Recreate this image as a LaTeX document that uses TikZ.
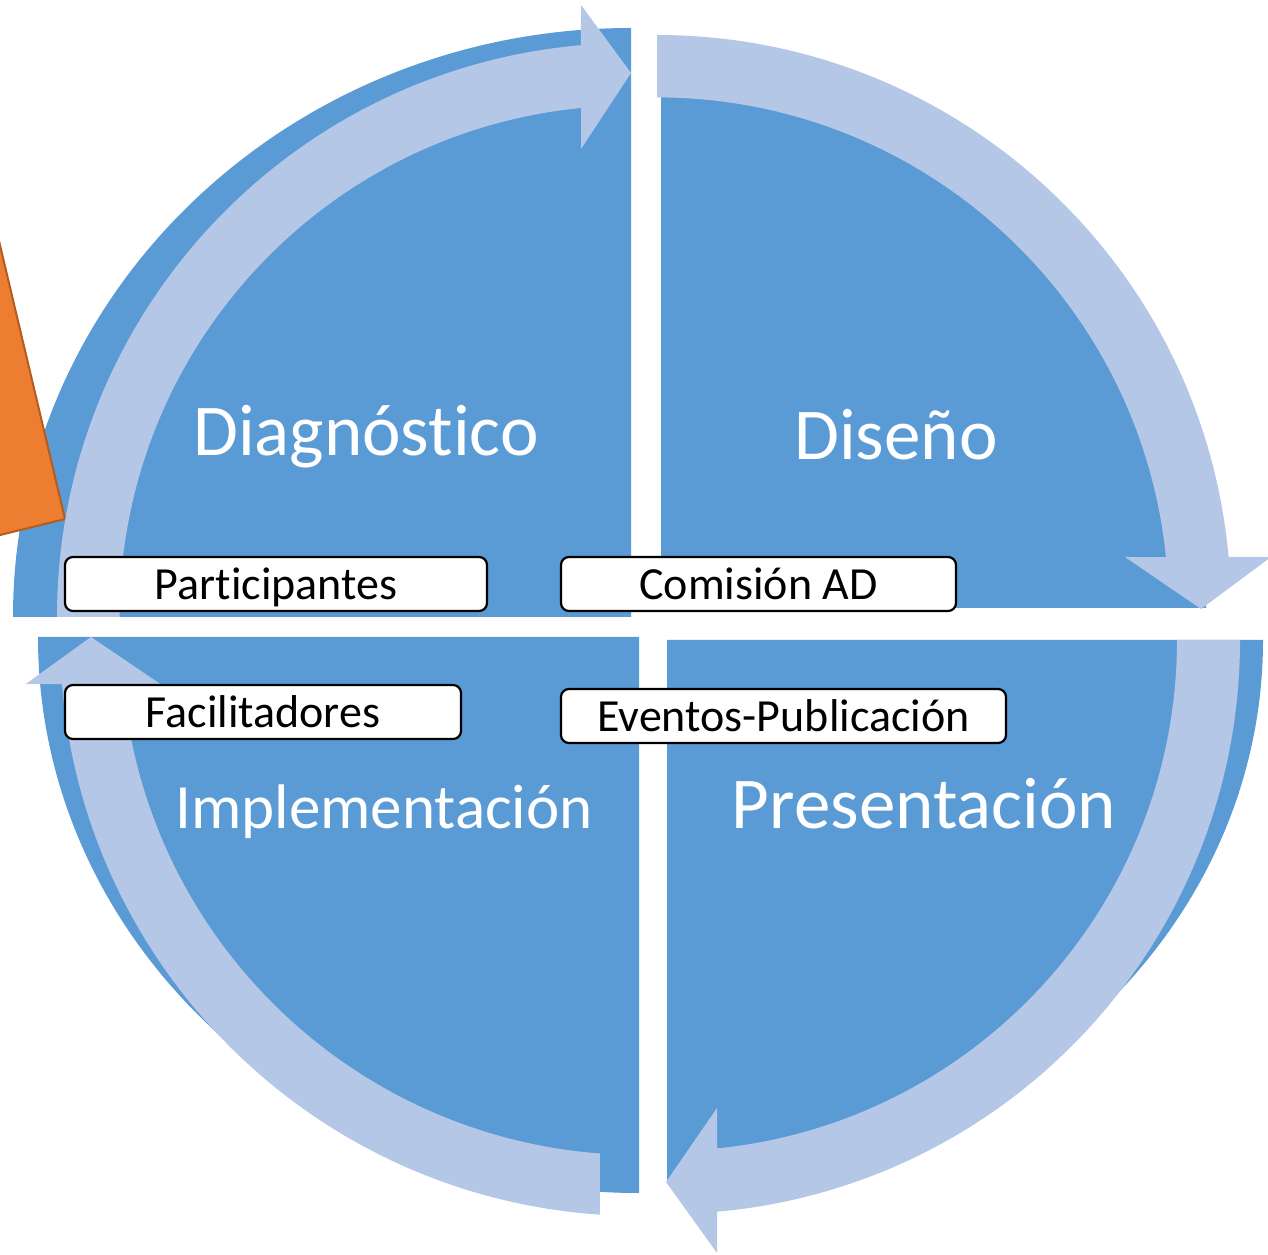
\documentclass[tikz,border=0pt]{standalone}
\usepackage{fontspec}
\setmainfont{Carlito}[Ligatures=NoCommon]
\definecolor{pieblue}{HTML}{5B9BD5}
\definecolor{arrowblue}{HTML}{B4C7E7}
\definecolor{orangefill}{HTML}{ED7D31}
\definecolor{orangeline}{HTML}{B35C1E}
\begin{document}
\begin{tikzpicture}[x=1pt,y=1pt]
\tikzset{
  pie/.style={fill=pieblue},
  cyclearrow/.style={fill=arrowblue},
  phase/.style={text=white, inner sep=0pt, anchor=base, font=\fontsize{73}{80}\selectfont},
  role/.style={draw=black, line width=2.2pt, fill=white, rounded corners=8pt, inner sep=0pt,
    text height=43pt, text depth=11pt, minimum height=54pt, font=\fontsize{46}{50}\selectfont}
}
\useasboundingbox (0,0) rectangle (1268,1254);
\clip (0,0) rectangle (1268,1254);

% quadrant pies
\fill[pie] (631,637) -- (13,637) arc[start angle=180,end angle=90,x radius=618,y radius=589] -- cycle;
\fill[pie] (661,646) -- (661,1206) arc[start angle=90,end angle=0,x radius=545,y radius=560] -- cycle;
\fill[pie] (667,614) -- (1263,614) arc[start angle=0,end angle=-90,x radius=596,y radius=540] -- cycle;
\fill[pie] (639,617) -- (639,61) arc[start angle=270,end angle=180,x radius=601,y radius=556] -- cycle;

% orange triangle
\filldraw[fill=orangefill, draw=orangeline, line width=2pt] (-10,1051) -- (65,735) -- (-10,716.5) -- cycle;

% cycle arrows
\begin{scope}[shift={(631,637)}]
  \fill[cyclearrow] (180:574) arc[start angle=180,end angle=95.0,radius=574]
    -- (-50,612) -- (0,544) -- (-50,468) -- (95.61:511.5)
    arc[start angle=95.61,end angle=180,radius=511.5] -- cycle;
\end{scope}
\begin{scope}[shift={(657,645)}]
  \fill[cyclearrow] (90:574) arc[start angle=90,end angle=5.2,radius=574]
    -- (614,52) -- (544,0) -- (468,52) -- (5.83:511.6)
    arc[start angle=5.83,end angle=90,radius=511.6] -- cycle;
\end{scope}
\begin{scope}[shift={(666,614)}]
  \fill[cyclearrow] (0:574) arc[start angle=0,end angle=-84.9,radius=574]
    -- (51,-613) -- (0,-542) -- (51,-468) -- (-84.27:511)
    arc[start angle=-84.27,end angle=0,radius=511] -- cycle;
\end{scope}
\begin{scope}[shift={(639,617)}]
  \fill[cyclearrow] (266.12:579) arc[start angle=266.12,end angle=184.67,radius=579]
    -- (-613.2,-47) -- (-548,0) -- (-478.7,-47) -- (185.2:518)
    arc[start angle=185.2,end angle=265.68,radius=518] -- cycle;
\end{scope}

% phase titles
\node[phase] (diag) at (366,798) {Diagnóst\kern0pt ico};
\node[phase] (dise) at (896,794) {Diseño};
\node[phase, font=\fontsize{63}{70}\selectfont] (impl) at (384,426) {Implementación};
\node[phase] (pres) at (924,426) {Presentación};

% role labels
\node[role, minimum width=422pt] (part) at (276,670) {Part\kern0pt icipantes};
\node[role, minimum width=395pt] (comi) at (758.5,670) {Comisión AD};
\node[role, minimum width=396pt] (faci) at (263,542) {Facilitadores};
\node[role, minimum width=445pt] (even) at (783.5,538) {Eventos-Publicación};
\end{tikzpicture}
\end{document}
